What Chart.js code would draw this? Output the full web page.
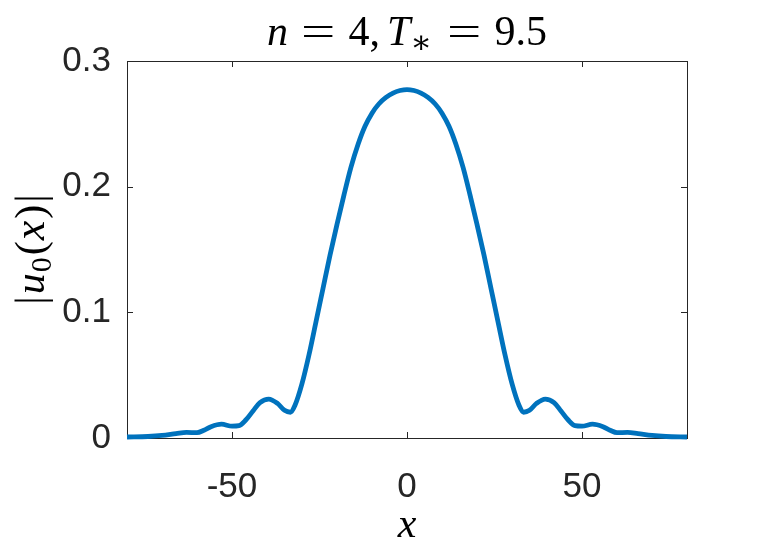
<!DOCTYPE html>
<html>
<head>
<meta charset="utf-8">
<script src="https://cdn.jsdelivr.net/npm/chart.js@4.4.0/dist/chart.umd.min.js"></script>
<style>
html, body { margin: 0; padding: 0; background: #fff; }
canvas { display: block; }
</style>
</head>
<body>
<canvas id="plot" width="757" height="554"></canvas>
<script>
// values
var xs = [-80, -74, -70, -66, -63, -60, -58, -56, -53, -50, -48, -46, -44, -42, -39.5, -37, -35, -33.3, -32, -30, -28, -26, -24, -22, -20, -18, -16, -14, -12, -10, -8, -6, -4, -2, 0,
          2, 4, 6, 8, 10, 12, 14, 16, 18, 20, 22, 24, 26, 28, 30, 32, 33.3, 35, 37, 39.5, 42, 44, 46, 48, 50, 53, 56, 58, 60, 63, 66, 70, 74, 80];
var ys = [0.0008, 0.0012, 0.002, 0.0035, 0.0045, 0.0042, 0.0062, 0.009, 0.011, 0.0094, 0.0098, 0.0145, 0.0215, 0.0282, 0.031, 0.0275, 0.022, 0.0205, 0.026, 0.0432, 0.0662, 0.0925, 0.119, 0.1455, 0.17, 0.1935, 0.2155, 0.2335, 0.248, 0.2585, 0.266, 0.271, 0.2745, 0.2765, 0.2773,
          0.2765, 0.2745, 0.271, 0.266, 0.2585, 0.248, 0.2335, 0.2155, 0.1935, 0.17, 0.1455, 0.119, 0.0925, 0.0662, 0.0432, 0.026, 0.0205, 0.022, 0.0275, 0.031, 0.0282, 0.0215, 0.0145, 0.0098, 0.0094, 0.011, 0.009, 0.0062, 0.0042, 0.0045, 0.0035, 0.002, 0.0012, 0.0008];
var xTicks = [-50, 0, 50];
var yTicks = [0, 0.1, 0.2, 0.3];

var axisColor = "#262626";
var serif = "'Liberation Serif', 'DejaVu Serif', serif";
var sans = "'Liberation Sans', Arial, sans-serif";

var points = xs.map(function(x, i) { return {x: x, y: ys[i]}; });

// pieces: [text, italic, sizeFactor, dy, gapAfter, stretchX]
function mathRow(ctx, parts, size, cx, baseY) {
    var total = 0;
    parts.forEach(function(p) {
        ctx.font = (p[1] ? "italic " : "") + Math.round(size * (p[2] || 1)) + "px " + serif;
        p.w = ctx.measureText(p[0]).width * (p[5] || 1);
        total += p.w + (p[4] || 0);
    });
    total -= parts[parts.length - 1][4] || 0;
    var x = cx - total / 2;
    ctx.textBaseline = "alphabetic";
    ctx.textAlign = "left";
    parts.forEach(function(p) {
        ctx.font = (p[1] ? "italic " : "") + Math.round(size * (p[2] || 1)) + "px " + serif;
        ctx.save();
        ctx.translate(x, baseY + (p[3] || 0));
        ctx.scale(p[5] || 1, 1);
        ctx.fillText(p[0], 0, 0);
        ctx.restore();
        x += p.w + (p[4] || 0);
    });
}

var frame = {
    id: "frame",
    beforeDatasetsDraw: function(chart) {
        var ctx = chart.ctx, a = chart.chartArea;
        var sx = chart.scales.x, sy = chart.scales.y;
        ctx.save();
        ctx.strokeStyle = axisColor;
        ctx.lineWidth = 1;
        ctx.strokeRect(a.left + 0.5, a.top + 0.5, a.right - a.left, a.bottom - a.top);
        ctx.beginPath();
        xTicks.forEach(function(v) {
            var px = Math.round(sx.getPixelForValue(v)) + 0.5;
            ctx.moveTo(px, a.bottom); ctx.lineTo(px, a.bottom - 6);
            ctx.moveTo(px, a.top); ctx.lineTo(px, a.top + 6);
        });
        yTicks.forEach(function(v) {
            var py = Math.round(sy.getPixelForValue(v)) + 0.5;
            ctx.moveTo(a.left, py); ctx.lineTo(a.left + 6, py);
            ctx.moveTo(a.right, py); ctx.lineTo(a.right - 6, py);
        });
        ctx.stroke();
        ctx.restore();
    },
    afterDraw: function(chart) {
        var ctx = chart.ctx, a = chart.chartArea;
        var cx = (a.left + a.right) / 2;
        ctx.save();
        ctx.fillStyle = "#000";
        // title: n = 4, T_* = 9.5
        mathRow(ctx, [
            ["n", true, 1, 0, 13],
            ["=", false, 1, 0, 13, 1.45],
            ["4,", false, 1, 0, 7],
            ["T", true, 1, 0, 0],
            ["\u2217", false, 0.75, 8, 15],
            ["=", false, 1, 0, 13, 1.45],
            ["9.5", false, 1, 0, 0]
        ], 42, cx, 45);
        // x axis label
        mathRow(ctx, [["x", true, 1.05, 0, 0]], 40, cx, 537);
        // y axis label |u_0(x)|
        ctx.translate(44, (a.top + a.bottom) / 2);
        ctx.rotate(-Math.PI / 2);
        mathRow(ctx, [
            ["|", false, 1, 0, 2],
            ["u", true, 1, 0, 1],
            ["0", false, 0.72, 7, 2],
            ["(", false, 1, 0, 1],
            ["x", true, 1.05, 0, 2],
            [")", false, 1, 0, 2],
            ["|", false, 1, 0, 0]
        ], 42, 0, 0);
        ctx.restore();
    }
};

new Chart(document.getElementById("plot").getContext("2d"), {
    type: "line",
    data: {
        datasets: [{
            data: points,
            borderColor: "#0072BD",
            borderWidth: 4.8,
            pointRadius: 0,
            fill: false,
            cubicInterpolationMode: "monotone",
            clip: false
        }]
    },
    options: {
        responsive: false,
        animation: false,
        layout: { padding: { top: 61, right: 70, left: 0, bottom: 0 } },
        plugins: { legend: { display: false }, tooltip: { enabled: false } },
        scales: {
            x: {
                type: "linear",
                min: -80, max: 80,
                grid: { display: false },
                border: { display: false },
                afterBuildTicks: function(s) { s.ticks = xTicks.map(function(v) { return {value: v}; }); },
                afterFit: function(s) { s.height = 116; },
                ticks: {
                    color: axisColor,
                    padding: 20,
                    maxRotation: 0,
                    font: { family: sans, size: 35 },
                    callback: function(v) { return String(v); }
                }
            },
            y: {
                min: 0, max: 0.3,
                grid: { display: false },
                border: { display: false },
                afterBuildTicks: function(s) { s.ticks = yTicks.map(function(v) { return {value: v}; }); },
                afterFit: function(s) { s.width = 127; },
                ticks: {
                    color: axisColor,
                    padding: 8,
                    font: { family: sans, size: 35 },
                    callback: function(v) { return String(v); }
                }
            }
        }
    },
    plugins: [frame]
});
</script>
</body>
</html>
